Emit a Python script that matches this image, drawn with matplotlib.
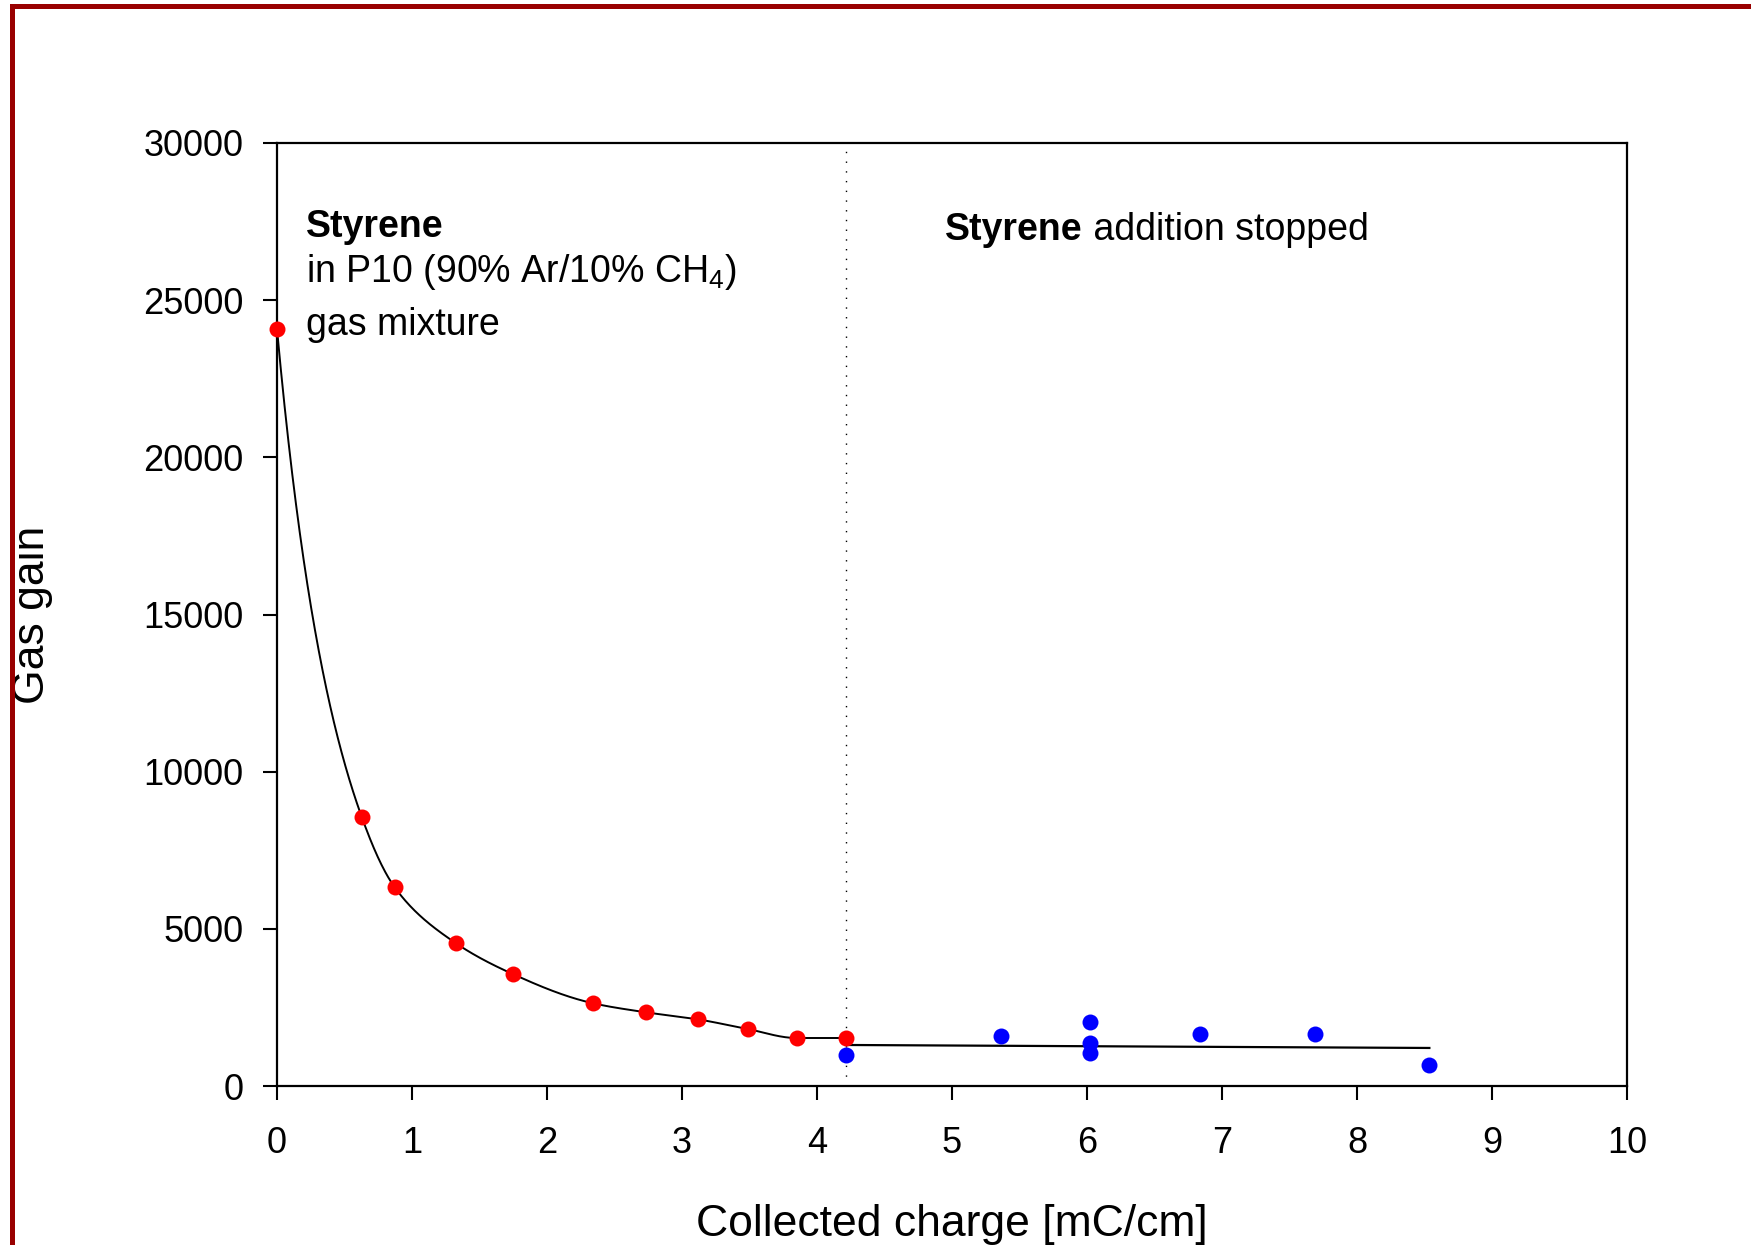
import numpy as np
import matplotlib
matplotlib.use("Agg")
import matplotlib.pyplot as plt
from matplotlib.patches import Rectangle

plt.rcParams['font.family'] = ['Liberation Sans', 'DejaVu Sans']
plt.rcParams['mathtext.fontset'] = 'custom'
plt.rcParams['mathtext.rm'] = 'Liberation Sans'
plt.rcParams['mathtext.it'] = 'Liberation Sans:italic'
plt.rcParams['mathtext.bf'] = 'Liberation Sans:bold'

# ---- data ----
red_x = [0.0, 0.627, 0.872, 1.326, 1.751, 2.343, 2.731, 3.116, 3.487, 3.849, 4.215]
red_y = [24080, 8567, 6321, 4540, 3553, 2630, 2345, 2122, 1813, 1527, 1527]
blue_x = [4.215, 5.363, 6.02, 6.02, 6.02, 6.837, 7.689, 8.536]
blue_y = [996, 1601, 2046, 1378, 1040, 1644, 1654, 678]
fit_x = [4.215, 8.536]
fit_y = [1305, 1210]
stop_x = 4.215
x_ticks = list(range(0, 11))
y_ticks = [0, 5000, 10000, 15000, 20000, 25000, 30000]


def pchip(x, y, xn):
    x = np.asarray(x, float); y = np.asarray(y, float)
    h = np.diff(x); d = np.diff(y) / h
    n = len(x)
    m = np.zeros(n)
    for k in range(1, n - 1):
        if d[k - 1] * d[k] <= 0:
            m[k] = 0.0
        else:
            w1 = 2 * h[k] + h[k - 1]; w2 = h[k] + 2 * h[k - 1]
            m[k] = (w1 + w2) / (w1 / d[k - 1] + w2 / d[k])
    def end(h0, h1, d0, d1):
        s = ((2 * h0 + h1) * d0 - h0 * d1) / (h0 + h1)
        if np.sign(s) != np.sign(d0):
            s = 0.0
        elif np.sign(d0) != np.sign(d1) and abs(s) > abs(3 * d0):
            s = 3 * d0
        return s
    m[0] = end(h[0], h[1], d[0], d[1])
    m[-1] = end(h[-1], h[-2], d[-1], d[-2])
    idx = np.clip(np.searchsorted(x, xn) - 1, 0, n - 2)
    t = (xn - x[idx]) / h[idx]
    h00 = 2 * t**3 - 3 * t**2 + 1; h10 = t**3 - 2 * t**2 + t
    h01 = -2 * t**3 + 3 * t**2; h11 = t**3 - t**2
    return h00 * y[idx] + h10 * h[idx] * m[idx] + h01 * y[idx + 1] + h11 * h[idx] * m[idx + 1]


fig = plt.figure(figsize=(17.51, 12.45), dpi=100)
ax = fig.add_axes([277 / 1751, 1 - 1086 / 1245, 1350 / 1751, (1086 - 143) / 1245])

# smooth curve through the styrene points (log-space monotone spline)
xs = np.linspace(red_x[0], red_x[-1], 600)
ys = np.exp(pchip(red_x, np.log(red_y), xs))
ax.plot(xs, ys, color='black', lw=1.4, zorder=2)
ax.plot(fit_x, fit_y, color='black', lw=1.6, zorder=2)
ax.axvline(stop_x, color='black', lw=1.0, linestyle=(0, (1, 6)), zorder=1)

ax.plot(red_x, red_y, 'o', color='#ff0000', ms=11.5, mec='none', zorder=3, clip_on=False)
ax.plot(blue_x, blue_y, 'o', color='#0000ff', ms=11.5, mec='none', zorder=3, clip_on=False)

ax.set_xlim(0, 10)
ax.set_ylim(0, 30000)
ax.set_xticks(x_ticks)
ax.set_yticks(y_ticks)
ax.tick_params(axis='both', direction='out', length=10, width=1.5, labelsize=26)
ax.tick_params(axis='x', pad=19)
ax.tick_params(axis='y', pad=14)
for sp in ax.spines.values():
    sp.set_linewidth(1.6)

ax.set_xlabel('Collected charge [mC/cm]', fontsize=32)
ax.xaxis.label.set_verticalalignment('baseline')
ax.xaxis.set_label_coords(0.5, -(1236 - 1086) / (1086 - 143))
ax.set_ylabel('Gas gain', fontsize=32)
ax.yaxis.set_label_coords(-(277 - 53) / 1350, 0.5)

# annotations
ax.text(0.215, 27010, 'Styrene', fontsize=27, fontweight='bold', va='baseline', ha='left')
ax.text(0.215, 25578, 'in P10 (90% Ar/10% CH$_4$)', fontsize=27, va='baseline', ha='left')
ax.text(0.215, 23900, 'gas mixture', fontsize=27, va='baseline', ha='left')

t1 = ax.text(4.95, 26900, 'Styrene', fontsize=27, fontweight='bold', va='baseline', ha='left')
ax.annotate(' addition stopped', xy=(1, 0), xycoords=t1, fontsize=27, va='bottom', ha='left')

# dark red frame
red = '#990000'
fig.add_artist(Rectangle((10 / 1751, 1 - 9.3 / 1245), 1, 5.3 / 1245,
                         transform=fig.transFigure, color=red, lw=0))
fig.add_artist(Rectangle((10 / 1751, -0.01), 5.3 / 1751, 1 - 4 / 1245 + 0.01,
                         transform=fig.transFigure, color=red, lw=0))

fig.savefig('out.png', dpi=100, facecolor='white')
